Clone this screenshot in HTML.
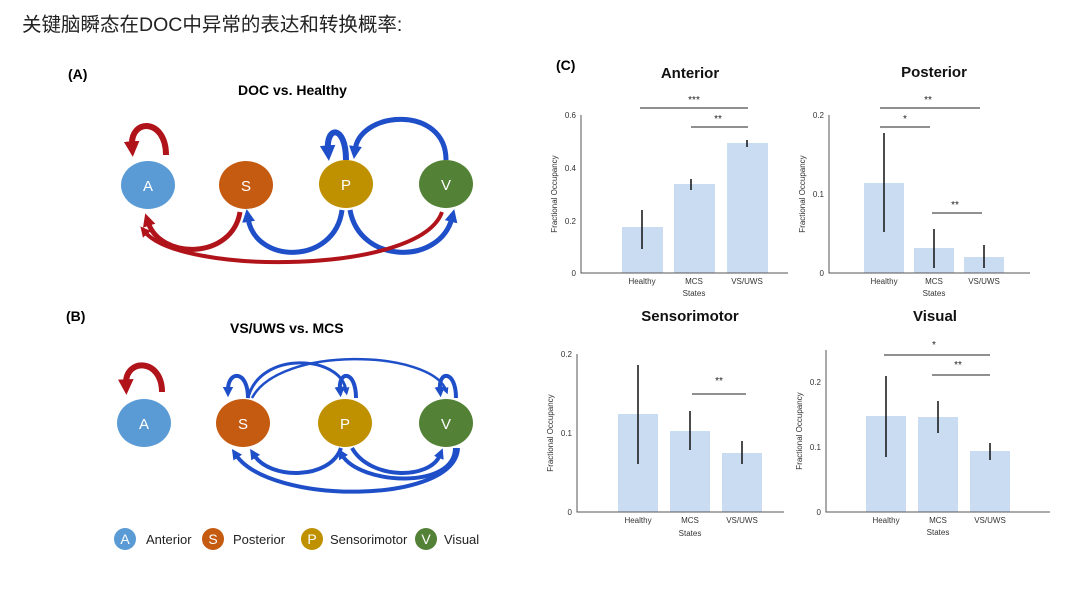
<!DOCTYPE html>
<html><head><meta charset="utf-8"><style>
html,body{margin:0;padding:0;background:#fff;width:1080px;height:608px;overflow:hidden}
text{font-family:"Liberation Sans",sans-serif}
.t{font-family:"Liberation Sans","Noto Sans CJK SC",sans-serif}
.ser{font-family:"Liberation Serif",serif;font-size:8px;fill:#333}
</style></head><body>
<svg width="1080" height="608" viewBox="0 0 1080 608" xmlns="http://www.w3.org/2000/svg">
<defs>
<marker id="ab" viewBox="0 0 10 10" markerWidth="2.6" markerHeight="2.6" refX="3" refY="5" orient="auto" markerUnits="strokeWidth"><path d="M0,0L10,5L0,10z" fill="#1f4fc8"/></marker>
<marker id="ar" viewBox="0 0 10 10" markerWidth="2.6" markerHeight="2.6" refX="3" refY="5" orient="auto" markerUnits="strokeWidth"><path d="M0,0L10,5L0,10z" fill="#b0141a"/></marker>
</defs>
<text x="22" y="31" class="t" font-size="19.5" fill="#222">关键脑瞬态在DOC中异常的表达和转换概率:</text>
<text x="68" y="79" font-size="14" font-weight="bold">(A)</text>
<text x="238" y="95" font-size="14" font-weight="bold">DOC vs. Healthy</text>
<text x="66" y="321" font-size="14" font-weight="bold">(B)</text>
<text x="230" y="333" font-size="14" font-weight="bold">VS/UWS vs. MCS</text>
<text x="556" y="70" font-size="14" font-weight="bold">(C)</text>

<!-- Panel A arrows -->
<g fill="none" stroke-linecap="butt">
<path d="M166,155 C166,118 130,118 132,146" stroke="#b0141a" stroke-width="6" marker-end="url(#ar)"/>
<path d="M346,160 C346,125 326,125 328,150" stroke="#1f4fc8" stroke-width="6" marker-end="url(#ab)"/>
<path d="M446,160 C446,105 360,110 355,150" stroke="#1f4fc8" stroke-width="5" marker-end="url(#ab)"/>
<path d="M240,212 C232,260 160,260 148,222" stroke="#b0141a" stroke-width="5" marker-end="url(#ar)"/>
<path d="M342,210 C335,265 255,265 248,218" stroke="#1f4fc8" stroke-width="5" marker-end="url(#ab)"/>
<path d="M350,210 C360,265 440,265 452,218" stroke="#1f4fc8" stroke-width="5" marker-end="url(#ab)"/>
<path d="M442,212 C420,275 180,275 145,232" stroke="#b0141a" stroke-width="4" marker-end="url(#ar)"/>
</g>
<g font-size="15" fill="#fff" text-anchor="middle">
<ellipse cx="148" cy="185" rx="27" ry="24" fill="#5b9bd5"/><text x="148" y="191">A</text>
<ellipse cx="246" cy="185" rx="27" ry="24" fill="#c55a11"/><text x="246" y="191">S</text>
<ellipse cx="346" cy="184" rx="27" ry="24" fill="#bf9000"/><text x="346" y="190">P</text>
<ellipse cx="446" cy="184" rx="27" ry="24" fill="#538135"/><text x="446" y="190">V</text>
</g>

<!-- Panel B arrows -->
<g fill="none">
<path d="M162,392 C162,358 125,358 126,384" stroke="#b0141a" stroke-width="6" marker-end="url(#ar)"/>
<path d="M248,398 C248,370 228,370 228,390" stroke="#1f4fc8" stroke-width="4" marker-end="url(#ab)"/>
<path d="M248,398 C260,350 340,355 346,390" stroke="#1f4fc8" stroke-width="3" marker-end="url(#ab)"/>
<path d="M252,398 C280,345 430,350 446,390" stroke="#1f4fc8" stroke-width="2.5" marker-end="url(#ab)"/>
<path d="M356,398 C356,370 338,370 340,390" stroke="#1f4fc8" stroke-width="4" marker-end="url(#ab)"/>
<path d="M456,398 C456,370 438,370 440,390" stroke="#1f4fc8" stroke-width="4" marker-end="url(#ab)"/>
<path d="M341,448 C330,480 270,480 254,455" stroke="#1f4fc8" stroke-width="4" marker-end="url(#ab)"/>
<path d="M352,448 C370,480 430,480 440,455" stroke="#1f4fc8" stroke-width="4" marker-end="url(#ab)"/>
<path d="M455,448 C455,490 360,485 342,455" stroke="#1f4fc8" stroke-width="4" marker-end="url(#ab)"/>
<path d="M458,448 C455,505 270,505 236,455" stroke="#1f4fc8" stroke-width="4" marker-end="url(#ab)"/>
</g>
<g font-size="15" fill="#fff" text-anchor="middle">
<ellipse cx="144" cy="423" rx="27" ry="24" fill="#5b9bd5"/><text x="144" y="429">A</text>
<ellipse cx="243" cy="423" rx="27" ry="24" fill="#c55a11"/><text x="243" y="429">S</text>
<ellipse cx="345" cy="423" rx="27" ry="24" fill="#bf9000"/><text x="345" y="429">P</text>
<ellipse cx="446" cy="423" rx="27" ry="24" fill="#538135"/><text x="446" y="429">V</text>
</g>

<!-- Legend -->
<g font-size="14">
<circle cx="125" cy="539" r="11" fill="#5b9bd5"/><text x="125" y="544" fill="#fff" text-anchor="middle">A</text><text x="146" y="544" fill="#222" font-size="13">Anterior</text>
<circle cx="213" cy="539" r="11" fill="#c55a11"/><text x="213" y="544" fill="#fff" text-anchor="middle">S</text><text x="233" y="544" fill="#222" font-size="13">Posterior</text>
<circle cx="312" cy="539" r="11" fill="#bf9000"/><text x="312" y="544" fill="#fff" text-anchor="middle">P</text><text x="330" y="544" fill="#222" font-size="13">Sensorimotor</text>
<circle cx="426" cy="539" r="11" fill="#538135"/><text x="426" y="544" fill="#fff" text-anchor="middle">V</text><text x="444" y="544" fill="#222" font-size="13">Visual</text>
</g>

<!-- Charts -->
<g font-size="15" font-weight="bold" text-anchor="middle" fill="#111">
<text x="690" y="78">Anterior</text><text x="934" y="77">Posterior</text>
<text x="690" y="321">Sensorimotor</text><text x="935" y="321">Visual</text>
</g>
<g fill="#c9dcf2">
<rect x="622" y="227" width="41" height="46"/><rect x="674" y="184" width="41" height="89"/><rect x="727" y="143" width="41" height="130"/>
<rect x="864" y="183" width="40" height="90"/><rect x="914" y="248" width="40" height="25"/><rect x="964" y="257" width="40" height="16"/>
<rect x="618" y="414" width="40" height="98"/><rect x="670" y="431" width="40" height="81"/><rect x="722" y="453" width="40" height="59"/>
<rect x="866" y="416" width="40" height="96"/><rect x="918" y="417" width="40" height="95"/><rect x="970" y="451" width="40" height="61"/>
</g>
<g stroke="#555" stroke-width="1" fill="none">
<path d="M581,115V273H788"/><path d="M829,115V273H1030"/>
<path d="M577,354V512H784"/><path d="M826,350V512H1050"/>
</g>
<g stroke="#111" stroke-width="1.5">
<path d="M642,210V249M691,179V190M747,140V147"/>
<path d="M884,133V232M934,229V268M984,245V268"/>
<path d="M638,365V464M690,411V450M742,441V464"/>
<path d="M886,376V457M938,401V433M990,443V460"/>
</g>
<g stroke="#222" stroke-width="1">
<path d="M640,108H748M691,127H748"/>
<path d="M880,108H980M880,127H930M932,213H982"/>
<path d="M692,394H746"/>
<path d="M884,355H990M932,375H990"/>
</g>
<g font-size="10" text-anchor="middle" fill="#222">
<text x="694" y="103">***</text><text x="718" y="122">**</text>
<text x="928" y="103">**</text><text x="905" y="122">*</text><text x="955" y="208">**</text>
<text x="719" y="384">**</text>
<text x="934" y="348">*</text><text x="958" y="368">**</text>
</g>
<g font-size="8" fill="#333" text-anchor="end">
<text x="576" y="118">0.6</text><text x="576" y="171">0.4</text><text x="576" y="224">0.2</text><text x="576" y="276">0</text>
<text x="824" y="118">0.2</text><text x="824" y="197">0.1</text><text x="824" y="276">0</text>
<text x="572" y="357">0.2</text><text x="572" y="436">0.1</text><text x="572" y="515">0</text>
<text x="821" y="385">0.2</text><text x="821" y="450">0.1</text><text x="821" y="515">0</text>
</g>
<g class="ser" text-anchor="middle">
<text x="642" y="284">Healthy</text><text x="694" y="284">MCS</text><text x="747" y="284">VS/UWS</text><text x="694" y="296">States</text>
<text x="884" y="284">Healthy</text><text x="934" y="284">MCS</text><text x="984" y="284">VS/UWS</text><text x="934" y="296">States</text>
<text x="638" y="523">Healthy</text><text x="690" y="523">MCS</text><text x="742" y="523">VS/UWS</text><text x="690" y="536">States</text>
<text x="886" y="523">Healthy</text><text x="938" y="523">MCS</text><text x="990" y="523">VS/UWS</text><text x="938" y="535">States</text>
<text transform="translate(557,194) rotate(-90)">Fractional Occupancy</text>
<text transform="translate(805,194) rotate(-90)">Fractional Occupancy</text>
<text transform="translate(553,433) rotate(-90)">Fractional Occupancy</text>
<text transform="translate(802,431) rotate(-90)">Fractional Occupancy</text>
</g>
</svg>
</body></html>
